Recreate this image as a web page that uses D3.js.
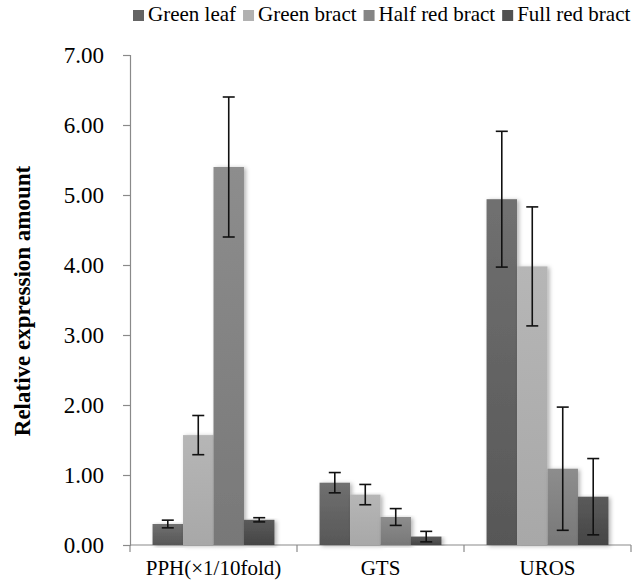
<!DOCTYPE html>
<html>
<head>
<meta charset="utf-8">
<script src="https://cdn.jsdelivr.net/npm/d3@7"></script>
<style>
	body { margin: 0; background: #fff; }
</style>
</head>
<body>
<svg id="chart"></svg>
<script>
const categories = ["PPH(\u00d71/10fold)", "GTS", "UROS"];
const series = ["Green leaf", "Green bract", "Half red bract", "Full red bract"];
// values per series, in category order
const greenLeaf = [0.30, 0.89, 4.94];
const greenBract = [1.57, 0.72, 3.98];
const halfRed = [5.40, 0.40, 1.09];
const fullRed = [0.36, 0.12, 0.69];
// error (+/-) per series
const greenLeafErr = [0.055, 0.145, 0.97];
const greenBractErr = [0.28, 0.145, 0.85];
const halfRedErr = [1.00, 0.12, 0.88];
const fullRedErr = [0.03, 0.075, 0.545];
const yTicks = [0, 1, 2, 3, 4, 5, 6, 7];

const values = [greenLeaf, greenBract, halfRed, fullRed];
const errors = [greenLeafErr, greenBractErr, halfRedErr, fullRedErr];
const topColors = ["#707070", "#b6b6b6", "#8d8d8d", "#5b5b5b"];
const bottomColors = ["#575757", "#a8a8a8", "#787878", "#454545"];
const legendColors = ["#646464", "#b1b1b1", "#858585", "#515151"];
const FONT = "Liberation Serif";

let width = 642,
	height = 580;
let mLeft = 130, mRight = 631, mTop = 55, mBottom = 545;

let svg = d3.select("#chart").attr("width", width).attr("height", height);
let defs = svg.append("defs");

series.forEach((s, i) => {
	let g = defs.append("linearGradient").attr("id", "grad" + i)
		.attr("x1", 0).attr("y1", 0).attr("x2", 0).attr("y2", 1);
	g.append("stop").attr("offset", "0%").attr("stop-color", topColors[i]);
	g.append("stop").attr("offset", "100%").attr("stop-color", bottomColors[i]);
});

let shadow = defs.append("filter").attr("id", "shadow")
	.attr("x", "-20%").attr("y", "-5%").attr("width", "150%").attr("height", "115%");
shadow.append("feDropShadow").attr("dx", 2).attr("dy", 1).attr("stdDeviation", 2)
	.attr("flood-color", "#000").attr("flood-opacity", 0.3);

const x0 = d3.scaleBand().domain(categories).range([mLeft, mRight]).paddingInner(0).paddingOuter(0);
const x1 = d3.scaleBand().domain(series).range([0, x0.bandwidth()]).paddingInner(0).paddingOuter(0.74);
const y = d3.scaleLinear().domain([0, 7]).range([mBottom, mTop]);

// y axis
let yAxis = svg.append("g").attr("transform", `translate(${mLeft},0)`)
	.call(d3.axisLeft(y).tickValues(yTicks).tickFormat(d3.format(".2f")).tickSize(7).tickPadding(19));
yAxis.select(".domain").attr("stroke", "#8a8a8a").attr("stroke-width", 1.2);
yAxis.selectAll(".tick line").attr("stroke", "#8a8a8a").attr("stroke-width", 1.2);
yAxis.selectAll(".tick text").style("font-size", "23px").style("font-family", FONT).attr("fill", "#000");

// x axis
let xAxisG = svg.append("g");
xAxisG.append("line").attr("x1", mLeft).attr("x2", mRight).attr("y1", mBottom).attr("y2", mBottom)
	.attr("stroke", "#8a8a8a").attr("stroke-width", 1.2);
let bounds = categories.map(c => x0(c)).concat([mRight]);
xAxisG.selectAll(".xt").data(bounds).enter().append("line")
	.attr("x1", d => d).attr("x2", d => d).attr("y1", mBottom).attr("y2", mBottom + 7)
	.attr("stroke", "#8a8a8a").attr("stroke-width", 1.2);
xAxisG.selectAll(".xl").data(categories).enter().append("text")
	.attr("x", d => x0(d) + x0.bandwidth() / 2)
	.attr("y", 575)
	.attr("text-anchor", "middle")
	.style("font-size", "21px")
	.style("font-family", FONT)
	.text(d => d);

// bars
let flat = [];
categories.forEach((c, ci) => {
	series.forEach((s, si) => {
		flat.push({ cat: c, ser: s, si: si, v: values[si][ci], e: errors[si][ci] });
	});
});

svg.append("g").selectAll("rect").data(flat).enter().append("rect")
	.attr("x", d => x0(d.cat) + x1(d.ser))
	.attr("y", d => y(d.v))
	.attr("width", x1.bandwidth())
	.attr("height", d => y(0) - y(d.v))
	.attr("fill", d => `url(#grad${d.si})`)
	.attr("filter", "url(#shadow)");

// error bars
let eb = svg.append("g").attr("stroke", "#111").attr("stroke-width", 1.6);
flat.forEach(d => {
	let cx = x0(d.cat) + x1(d.ser) + x1.bandwidth() / 2;
	let y1 = y(d.v + d.e), y2 = y(Math.max(0, d.v - d.e));
	eb.append("line").attr("x1", cx).attr("x2", cx).attr("y1", y1).attr("y2", y2);
	eb.append("line").attr("x1", cx - 6).attr("x2", cx + 6).attr("y1", y1).attr("y2", y1);
	eb.append("line").attr("x1", cx - 6).attr("x2", cx + 6).attr("y1", y2).attr("y2", y2);
});

// y title
svg.append("text")
	.attr("transform", "translate(30,301) rotate(-90)")
	.attr("text-anchor", "middle")
	.style("font-size", "23px")
	.style("font-weight", "bold")
	.style("font-family", FONT)
	.text("Relative expression amount");

// legend
let lg = svg.append("g");
let lx = 133;
series.forEach((s, i) => {
	lg.append("rect").attr("x", lx).attr("y", 10).attr("width", 11).attr("height", 11)
		.attr("fill", legendColors[i]);
	let t = lg.append("text").attr("x", lx + 15).attr("y", 21)
		.style("font-size", "21px").style("font-family", FONT).text(s);
	lx += 15 + t.node().getComputedTextLength() + 7;
});
</script>
</body>
</html>
